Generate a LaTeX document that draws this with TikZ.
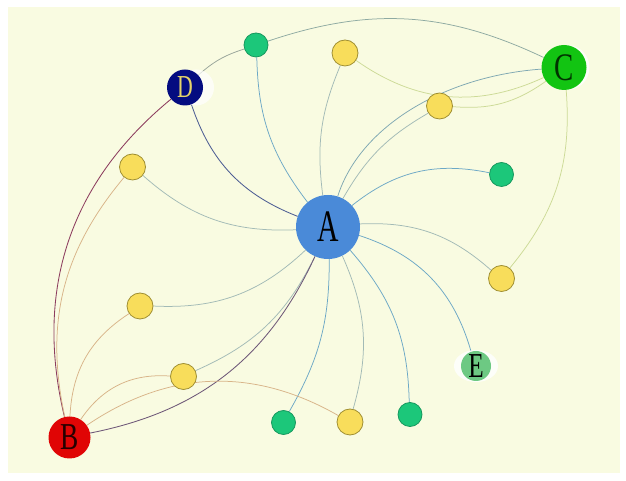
\documentclass[tikz,border=0pt]{standalone}
\usepackage{fontspec}
\setmainfont{Liberation Serif}
\definecolor{bgc}{HTML}{F9FBE1}
\definecolor{afill}{HTML}{4A8AD8}
\definecolor{bfill}{HTML}{E00505}
\definecolor{cfill}{HTML}{12C412}
\definecolor{dfill}{HTML}{040C80}
\definecolor{efill}{HTML}{6DC983}
\definecolor{gfill}{HTML}{1CC77A}
\definecolor{gdraw}{HTML}{17985E}
\definecolor{yfill}{HTML}{F8DD5B}
\definecolor{ydraw}{HTML}{A08F32}
\definecolor{dlab}{HTML}{E6D46A}
\definecolor{eay}{HTML}{A2BAB6}
\definecolor{eag}{HTML}{6CA8C6}
\definecolor{ead}{HTML}{4E5E94}
\definecolor{eab}{HTML}{6E5878}
\definecolor{eac}{HTML}{7FA8B2}
\definecolor{eby}{HTML}{D8B488}
\definecolor{ebd}{HTML}{8C3C5E}
\definecolor{ecy}{HTML}{CCDA96}
\definecolor{edg}{HTML}{98A49A}
\definecolor{egc}{HTML}{8EAAA2}
\pgfdeclarelayer{bglayer}
\pgfdeclarelayer{edgelayer}
\pgfsetlayers{bglayer,edgelayer,main}
\begin{document}
\begin{tikzpicture}[x=1pt,y=1pt,
  ynode/.style={circle,draw=ydraw,fill=yfill,line width=0.8pt,minimum size=26pt,inner sep=0pt},
  gnode/.style={circle,draw=gdraw,fill=gfill,line width=0.8pt,minimum size=24pt,inner sep=0pt},
  bignode/.style={circle,inner sep=0pt},
  edge/.style={line width=0.75pt},
  ay/.style={edge,draw=eay},
  ag/.style={edge,draw=eag},
  ad/.style={edge,draw=ead,line width=0.85pt},
  ab/.style={edge,draw=eab,line width=0.85pt},
  ac/.style={edge,draw=eac},
  by/.style={edge,draw=eby},
  bd/.style={edge,draw=ebd,line width=0.85pt},
  cy/.style={edge,draw=ecy},
  dg/.style={edge,draw=edg},
  gc/.style={edge,draw=egc}]
\useasboundingbox (0,0) rectangle (626,481);
\begin{pgfonlayer}{bglayer}
  \fill[white] (0,0) rectangle (626,481);
  \fill[bgc] (8,8) rectangle (620,474);
\end{pgfonlayer}
% label halos
\fill[white,opacity=0.7] (196,393.5) circle (18);
\fill[white,opacity=0.8] (567,413.5) circle (22.5);
\fill[white,opacity=0.8] (476,115) ellipse (22 and 16);
% hubs
\node[bignode,fill=afill,minimum size=64pt] (A) at (328,254)
  {\fontsize{45}{45}\selectfont\scalebox{0.66}[1]{A}};
\node[bignode,fill=bfill,minimum size=42pt,text=black!85!red] (B) at (69.5,43.5)
  {\fontsize{38}{38}\selectfont\scalebox{0.72}[1]{B}};
\node[bignode,fill=cfill,minimum size=45pt,text=black!80!green] (C) at (564,413.5)
  {\fontsize{39}{39}\selectfont\scalebox{0.74}[1]{C}};
\node[bignode,fill=dfill,minimum size=36pt,text=dlab] (D) at (185,393.5)
  {\fontsize{32}{32}\selectfont\scalebox{0.68}[1]{D}};
\node[bignode,fill=efill,minimum size=30pt] (E) at (476,115)
  {\fontsize{35}{35}\selectfont\scalebox{0.72}[1]{E}};
% small green nodes
\node[gnode] (G1) at (256,436) {};
\node[gnode] (G2) at (501.5,306.5) {};
\node[gnode] (G3) at (283.5,58.5) {};
\node[gnode] (G4) at (410,66.5) {};
% small yellow nodes
\node[ynode] (Y1) at (345,428) {};
\node[ynode] (Y2) at (439.5,375) {};
\node[ynode] (Y3) at (132.5,314) {};
\node[ynode] (Y4) at (501.5,202.5) {};
\node[ynode] (Y5) at (140,175) {};
\node[ynode] (Y6) at (183.5,104.5) {};
\node[ynode] (Y7) at (350,59) {};
\begin{pgfonlayer}{edgelayer}
  % edges of A
  \draw[ay] (A) to[bend left=15] (Y1);
  \draw[ag] (A) to[bend left=18] (G1);
  \draw[ad] (A) to[bend left=25] (D);
  \draw[ay] (A) to[bend left=22] (Y3);
  \draw[ay] (A) to[bend left=23] (Y5);
  \draw[ay] (A) to[bend left=20] (Y6);
  \draw[ab] (A) to[bend left=27] (B);
  \draw[ag] (A) to[bend left=15] (G3);
  \draw[ay] (A) to[bend left=20] (Y7);
  \draw[ag] (A) to[bend left=20] (G4);
  \draw[ag] (A) to[bend left=28] (E);
  \draw[ay] (A) to[bend left=22] (Y4);
  \draw[ag] (A) to[bend left=25] (G2);
  \draw[ay] (A) to[bend left=15] (Y2);
  \draw[ac] (A) .. controls (360,355) and (445,405) .. (C);
  % edges of B
  \draw[bd] (B) to[bend left=32] (D);
  \draw[by] (B) to[bend left=26] (Y3);
  \draw[by] (B) to[bend left=27] (Y5);
  \draw[by] (B) to[bend left=30] (Y6);
  \draw[by] (B) to[bend left=32] (Y7);
  % edges of C
  \draw[cy] (C) to[bend left=30] (Y1);
  \draw[cy] (C) to[bend left=20] (Y2);
  \draw[cy] (C) to[bend left=22] (Y4);
  % top arc
  \draw[dg] (D) to[bend left=12] (G1);
  \draw[gc] (G1) to[bend left=22] (C);
\end{pgfonlayer}
\end{tikzpicture}
\end{document}
